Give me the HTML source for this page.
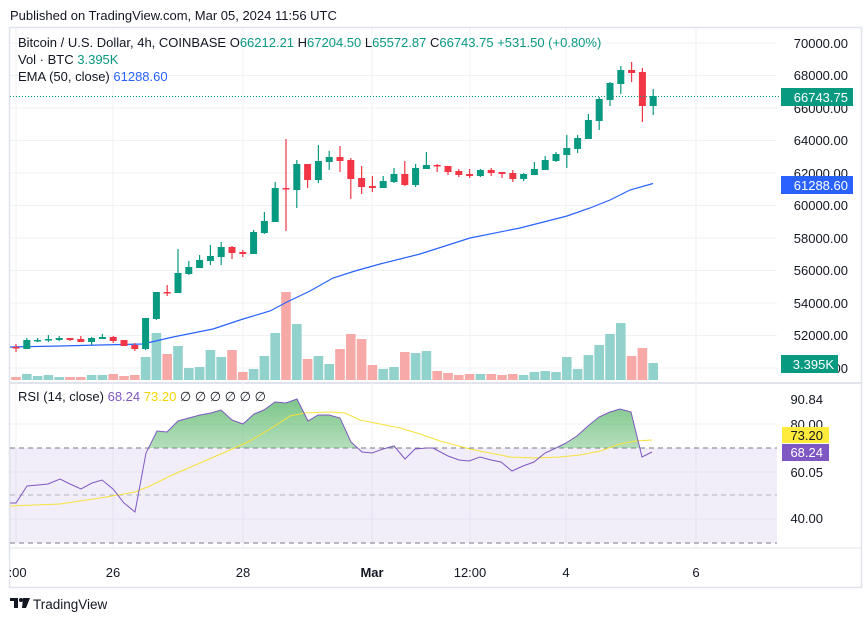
<!DOCTYPE html>
<html><head><meta charset="utf-8"><style>
body{margin:0;background:#fff;width:866px;height:621px;overflow:hidden;font-family:"Liberation Sans",sans-serif}
svg{position:absolute;left:0;top:0}
</style></head><body>
<svg width="866" height="621" viewBox="0 0 866 621" xmlns="http://www.w3.org/2000/svg" font-family="Liberation Sans, sans-serif">
<defs>
<linearGradient id="g" x1="0" y1="0" x2="0" y2="1"><stop offset="0" stop-color="#5cb86c" stop-opacity="0.8"/><stop offset="1" stop-color="#5cb86c" stop-opacity="0.02"/></linearGradient>
<clipPath id="above"><rect x="0" y="395" width="780" height="53"/></clipPath>
</defs>
<text x="10" y="20" font-size="13" fill="#131722">Published on TradingView.com, Mar 05, 2024 11:56 UTC</text>
<rect x="9.5" y="27.5" width="852" height="560" fill="none" stroke="#e0e3eb" stroke-width="1.5"/>
<line x1="10" y1="383" x2="861" y2="383" stroke="#e0e3eb" stroke-width="2"/>
<line x1="10" y1="548" x2="861" y2="548" stroke="#e0e3eb"/>
<g stroke="#f0f1f4" stroke-width="1">
<line x1="10" x2="777" y1="43" y2="43"/><line x1="10" x2="777" y1="75.5" y2="75.5"/><line x1="10" x2="777" y1="108" y2="108"/><line x1="10" x2="777" y1="140.5" y2="140.5"/><line x1="10" x2="777" y1="173" y2="173"/><line x1="10" x2="777" y1="205.5" y2="205.5"/><line x1="10" x2="777" y1="238" y2="238"/><line x1="10" x2="777" y1="270.5" y2="270.5"/><line x1="10" x2="777" y1="303" y2="303"/><line x1="10" x2="777" y1="335.5" y2="335.5"/><line x1="10" x2="777" y1="368" y2="368"/>
<line x1="10" x2="777" y1="424" y2="424"/><line x1="10" x2="777" y1="472" y2="472"/><line x1="10" x2="777" y1="519" y2="519"/>
<line x1="16" x2="16" y1="28" y2="548"/><line x1="113" x2="113" y1="28" y2="548"/><line x1="243" x2="243" y1="28" y2="548"/><line x1="372" x2="372" y1="28" y2="548"/><line x1="470" x2="470" y1="28" y2="548"/><line x1="566" x2="566" y1="28" y2="548"/><line x1="696" x2="696" y1="28" y2="548"/>
</g>
<rect x="10" y="448" width="767" height="95" fill="#7e57c2" fill-opacity="0.1"/>
<g stroke="#787b86" stroke-dasharray="5,4" stroke-width="1">
<line x1="10" x2="777" y1="448" y2="448"/><line x1="10" x2="777" y1="543" y2="543"/></g>
<line x1="10" x2="777" y1="495" y2="495" stroke="#b2b5be" stroke-dasharray="5,4"/>
<path clip-path="url(#above)" fill="url(#g)" d="M10,448 L10,503 16,503 27,486 38,485 48,484 60,479 70,484 81,489 92,483 102,480 113,489 124,503 135,512 146,453 157,431 167,432 178,421 189,418 200,415 211,413 221,410 232,420 243,424 254,414 264,410 275,402 286,403 297,399 308,421 318,415 329,415 340,418 351,442 362,452 372,453 383,449 394,446 405,459 415,449 427,448 433,448 448,456 459,460 469,461 480,457 491,460 501,462 512,471 523,466 534,462 545,453 556,448 566,443 577,436 588,426 599,417 610,412 620,409 631,412 642,457 652,452 L652,448Z"/>
<polyline fill="none" stroke="#f7e13a" stroke-width="1" points="10,506 60,504 100,498 135,492 150,486 170,476 200,463 230,450 250,441 270,429 290,416 305,413 330,412 345,413 360,420 380,424 400,428 420,434 440,441 470,449 490,453 510,457 535,458 560,457 580,455 600,451 620,444 636,441 652,440"/>
<polyline fill="none" stroke="#7e57c2" stroke-width="1" points="10,503 16,503 27,486 38,485 48,484 60,479 70,484 81,489 92,483 102,480 113,489 124,503 135,512 146,453 157,431 167,432 178,421 189,418 200,415 211,413 221,410 232,420 243,424 254,414 264,410 275,402 286,403 297,399 308,421 318,415 329,415 340,418 351,442 362,452 372,453 383,449 394,446 405,459 415,449 427,448 433,448 448,456 459,460 469,461 480,457 491,460 501,462 512,471 523,466 534,462 545,453 556,448 566,443 577,436 588,426 599,417 610,412 620,409 631,412 642,457 652,452"/>
<g id="vol"></g>
<polyline fill="none" stroke="#2962ff" stroke-width="1.2" points="10,347 60,346 100,345 143,344 173,337 213,329 243,319 270,311 287,302 310,291 333,278 355,271 380,264 420,254 470,238 520,228 567,216 590,208 610,200 630,190 653,183.5"/>
<g id="candles"></g>
<line x1="10" x2="780" y1="96.5" y2="96.5" stroke="#089981" stroke-dasharray="1,2"/>
<g font-size="13" fill="#131722" style="white-space:pre">
<text x="18" y="47">Bitcoin / U.S. Dollar, 4h, COINBASE  O<tspan fill="#089981">66212.21</tspan>  H<tspan fill="#089981">67204.50</tspan>  L<tspan fill="#089981">65572.87</tspan>  C<tspan fill="#089981">66743.75</tspan> <tspan fill="#089981">+531.50 (+0.80%)</tspan></text>
<text x="18" y="64">Vol · BTC  <tspan fill="#089981">3.395K</tspan></text>
<text x="18" y="81">EMA (50, close)  <tspan fill="#2962ff">61288.60</tspan></text>
<text x="18" y="401">RSI (14, close)  <tspan fill="#7e57c2">68.24</tspan>  <tspan fill="#f2d500">73.20</tspan>  ∅ ∅ ∅ ∅ ∅ ∅</text>
</g>
<g font-size="13" fill="#131722" text-anchor="end">
<text x="848" y="48">70000.00</text><text x="848" y="80">68000.00</text><text x="848" y="113">66000.00</text><text x="848" y="145">64000.00</text><text x="848" y="178">62000.00</text><text x="848" y="210">60000.00</text><text x="848" y="243">58000.00</text><text x="848" y="275">56000.00</text><text x="848" y="308">54000.00</text><text x="848" y="340">52000.00</text><text x="848" y="373">50000.00</text>
<text x="823" y="404">90.84</text><text x="823" y="429">80.00</text><text x="823" y="477">60.05</text><text x="823" y="523">40.00</text>
</g>
<rect x="781" y="88" width="72" height="18" fill="#089981"/><text x="848" y="102" font-size="13" fill="#fff" text-anchor="end">66743.75</text>
<rect x="781" y="176" width="72" height="18" fill="#2962ff"/><text x="848" y="190" font-size="13" fill="#fff" text-anchor="end">61288.60</text>
<rect x="781" y="355" width="57" height="18" fill="#089981"/><text x="834" y="369" font-size="13" fill="#fff" text-anchor="end">3.395K</text>
<rect x="782" y="427" width="47" height="16" fill="#ffeb3b"/><text x="823" y="440" font-size="13" fill="#131722" text-anchor="end">73.20</text>
<rect x="782" y="444" width="47" height="17" fill="#7e57c2"/><text x="823" y="457" font-size="13" fill="#fff" text-anchor="end">68.24</text>
<g font-size="13" fill="#131722" text-anchor="middle">
<text x="14" y="577">2:00</text><text x="113" y="577">26</text><text x="243" y="577">28</text><text x="372" y="577" font-weight="bold">Mar</text><text x="470" y="577">12:00</text><text x="566" y="577">4</text><text x="696" y="577">6</text>
</g>
<rect x="0" y="560" width="9" height="25" fill="#fff"/>
<g fill="#131722"><rect x="10" y="598" width="8" height="3"/><rect x="14" y="598" width="4" height="10"/><circle cx="21" cy="600" r="2"/><path d="M23,598 L30,598 L26,608 L22,608Z"/></g>
<text x="33" y="609" font-size="13.5" fill="#131722">TradingView</text>
</svg>
<script>
(function(){
var C=[[347,347,344,352,0],[340,349,338,349,1],[340,341,338,342,1],[339,340,335,342,1],[338,340,336,341,1],[338,340,338,341,0],[339,342,336,342,0],[338,342,337,345,1],[337,339,334,339,1],[337,341,336,343,0],[340,346,340,346,0],[345,349,343,351,0],[318,349,318,350,1],[292,319,292,320,1],[292,293,285,296,0],[273,293,249,293,1],[267,274,261,275,1],[260,268,255,268,1],[256,261,245,265,1],[247,257,242,265,1],[247,253,246,259,0],[252,254,250,257,0],[232,254,230,254,1],[221,233,212,234,1],[188,222,182,222,1],[188,189,139,231,0],[164,190,160,208,1],[164,180,164,188,0],[161,180,145,183,1],[157,162,151,170,1],[157,161,146,172,0],[160,179,158,199,0],[178,187,166,194,0],[186,188,176,192,0],[181,188,176,188,1],[174,182,168,183,1],[174,185,161,186,0],[168,185,164,187,1],[165,169,152,169,1],[165,165,164,172,0],[166,172,166,175,0],[171,175,169,177,0],[174,176,169,178,0],[170,176,169,177,1],[170,173,168,176,0],[172,174,172,178,0],[173,179,170,182,0],[174,179,173,181,1],[169,175,162,175,1],[160,170,156,170,1],[154,161,152,162,1],[148,155,135,168,1],[138,149,135,153,1],[120,139,114,130,1],[99,121,97,130,1],[83,100,82,106,1],[70,84,66,94,1],[70,73,62,82,0],[72,106,68,122,0],[96,106,89,115,1]];
var V=[741,732,738,735,741,741,741,735,735,732,738,735,681,609,672,648,714,711,660,681,660,726,717,678,609,486,582,687,678,702,657,612,627,705,717,711,666,669,663,723,729,735,732,732,732,735,732,735,726,723,726,681,717,675,645,612,579,678,654,699];
var ns="http://www.w3.org/2000/svg",cg=document.getElementById('candles'),vg=document.getElementById('vol');
function el(g,t,a){var e=document.createElementNS(ns,t);for(var k in a)e.setAttribute(k,a[k]);g.appendChild(e);}
for(var i=0;i<60;i++){var x=16+i*10.8,c=C[i],col=c[4]?'#089981':'#f23645';
var vt=V[i]/3+130;el(vg,'rect',{x:x-4.8,y:vt,width:9.6,height:380-vt,fill:c[4]?'#92d2cc':'#f7a9a7'});
el(cg,'line',{x1:x,x2:x,y1:c[2],y2:c[3],stroke:col,'stroke-width':1.2});
var h=Math.max(c[1]-c[0],1.5);el(cg,'rect',{x:x-3.5,y:c[0],width:7,height:h,fill:col});}
})();
</script>
</body></html>
